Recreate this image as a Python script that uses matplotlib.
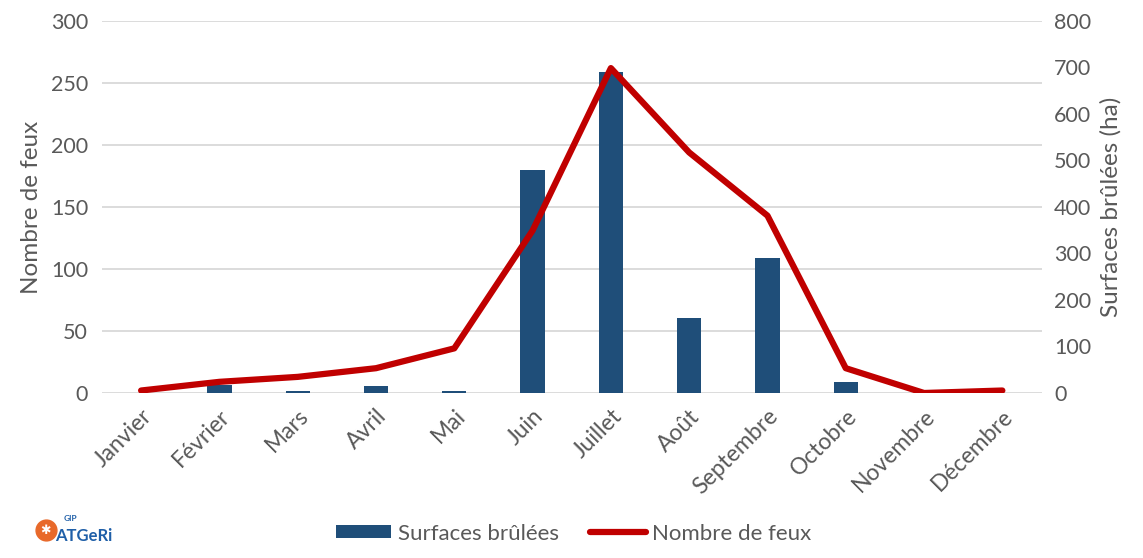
import matplotlib.pyplot as plt
from matplotlib.lines import Line2D
import numpy as np

mois = ['Janvier', 'Février', 'Mars', 'Avril', 'Mai', 'Juin', 'Juillet',
        'Août', 'Septembre', 'Octobre', 'Novembre', 'Décembre']
surfaces_ha = [0, 17, 5, 15, 4, 480, 690, 162, 291, 24, 0, 0]
nb_feux = [2, 9, 13, 20, 36, 131, 262, 194, 143, 20, 0, 2]

gris = '#595959'
plt.rcParams['font.family'] = ['Lato', 'DejaVu Sans']

fig = plt.figure(figsize=(11.43, 5.58), dpi=100)
ax = fig.add_axes([0.0892, 0.2957, 0.8220, 0.6667])
ax2 = ax.twinx()

x = np.arange(len(mois))
ymax_feux, ymax_ha = 300, 800

# quadrillage aligné sur l'axe de gauche, tracé sous les barres
for v in range(0, ymax_feux + 1, 50):
    ax2.axhline(v * ymax_ha / ymax_feux, color='#D9D9D9', lw=1.3, zorder=0)

# barres sur l'axe de droite (ha), courbe sur l'axe de gauche (feux)
bars = ax2.bar(x, surfaces_ha, width=0.31, color='#1F4E79', zorder=2,
               label='Surfaces brûlées')
line, = ax.plot(x, nb_feux, color='#C00000', lw=4.5, solid_joinstyle='round',
                solid_capstyle='round', zorder=5, label='Nombre de feux')
ax.set_zorder(ax2.get_zorder() + 1)
ax.patch.set_visible(False)

ax.set_xlim(-0.5, 11.5)
ax.set_ylim(0, ymax_feux)
ax2.set_ylim(0, ymax_ha)
ax.set_yticks(range(0, ymax_feux + 1, 50))
ax2.set_yticks(range(0, ymax_ha + 1, 100))

for a in (ax, ax2):
    for s in a.spines.values():
        s.set_visible(False)
    a.tick_params(length=0, labelsize=15.5, labelcolor=gris)
ax.tick_params(axis='y', pad=10)
ax2.tick_params(axis='y', pad=9)

ax.set_xticks(x)
ax.set_xticklabels(mois, rotation=45, ha='right', rotation_mode='anchor',
                   fontsize=16.5)
ax.tick_params(axis='x', pad=9)

ax.set_ylabel('Nombre de feux', fontsize=17.5, color=gris, labelpad=6)
ax2.set_ylabel('Surfaces brûlées (ha)', fontsize=17.5, color=gris, labelpad=6)

fig.legend(handles=[bars, line], loc='lower center', bbox_to_anchor=(0.502, -0.01),
           ncol=2, frameon=False, fontsize=16, labelcolor=gris,
           handlelength=2.5, handleheight=0.5, handletextpad=0.3,
           columnspacing=1.4)

# logo GIP ATGeRi en bas à gauche
fig.add_artist(Line2D([0.040], [0.050], marker='o', markersize=15,
                      color='#E8692A', transform=fig.transFigure))
fig.text(0.040, 0.050, '✱', fontsize=9, color='white', ha='center',
         va='center', family=['DejaVu Sans'], weight='bold')
fig.text(0.048, 0.040, 'ATGeRi', fontsize=12, color='#1F5FA8', weight='bold',
         ha='left', va='center')
fig.text(0.056, 0.070, 'GIP', fontsize=6, color='#1F5FA8', weight='bold',
         ha='left', va='center')

fig.savefig('out.png', dpi=100)
